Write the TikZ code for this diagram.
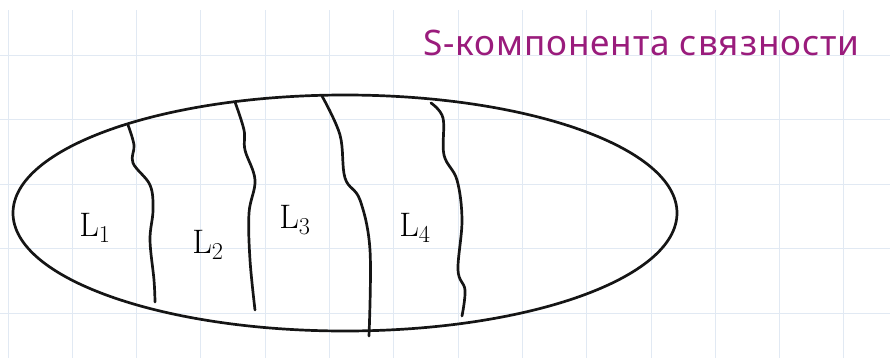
\documentclass[tikz,border=0pt]{standalone}
\usepackage{fontspec}
\usepackage{tikz}
\usetikzlibrary{positioning}
\newfontfamily\handfont[LetterSpace=2.5]{Noto Sans}
\definecolor{SketchInk}{HTML}{151515}
\definecolor{SketchPurple}{HTML}{9A1C7C}
\definecolor{GridBlue}{HTML}{E1E9F3}

\begin{document}
\begin{tikzpicture}[x=0.03cm, y=-0.03cm, gridline/.style={draw=GridBlue, line width=0.8pt}, ink/.style={draw=SketchInk, line width=2.3pt, line cap=round, line join=round}, cut/.style={ink, smooth, tension=0.6}, part/.style={font=\fontsize{29}{32}\selectfont, inner sep=0pt}, title/.style={font=\handfont\fontsize{30}{33}\selectfont, text=SketchPurple, inner sep=0pt}]
\useasboundingbox (0,0) rectangle (890,358);
% grid paper
\foreach \i in {0,...,13}{\draw[gridline] ({8+64.3*\i},10) -- ({8+64.3*\i},358);}
\foreach \j in {0,...,4}{\draw[gridline] (0,{55+64.5*\j}) -- (890,{55+64.5*\j});}
% component and its cuts
\coordinate (mid) at (345,213);
\draw[ink] (mid) ellipse [x radius=332, y radius=118];
\draw[ink] plot[cut] coordinates {(128,125) (134,145) (133,163) (150,185) (153,210) (150,240) (154,280) (155,302)};
\draw[ink] plot[cut] coordinates {(235,102) (244,130) (245,150) (255,180) (249,213) (250,260) (255,310)};
\draw[ink] plot[cut] coordinates {(322,96) (340,135) (345,178) (360,200) (370,250) (369,336)};
\draw[ink] plot[cut] coordinates {(431,103) (443,118) (444,155) (457,180) (462,220) (458,270) (465,290) (462,316)};
% labels
\node[part] (l1) at (95,228) {$\mathrm{L}_1$};
\node[part] (l2) at (208,245) {$\mathrm{L}_2$};
\node[part] (l3) at (295,220) {$\mathrm{L}_3$};
\node[part] (l4) at (415,228) {$\mathrm{L}_4$};
\node[title, anchor=base west] (head) at (423,55) {S-компонента связности};
\end{tikzpicture}
\end{document}
